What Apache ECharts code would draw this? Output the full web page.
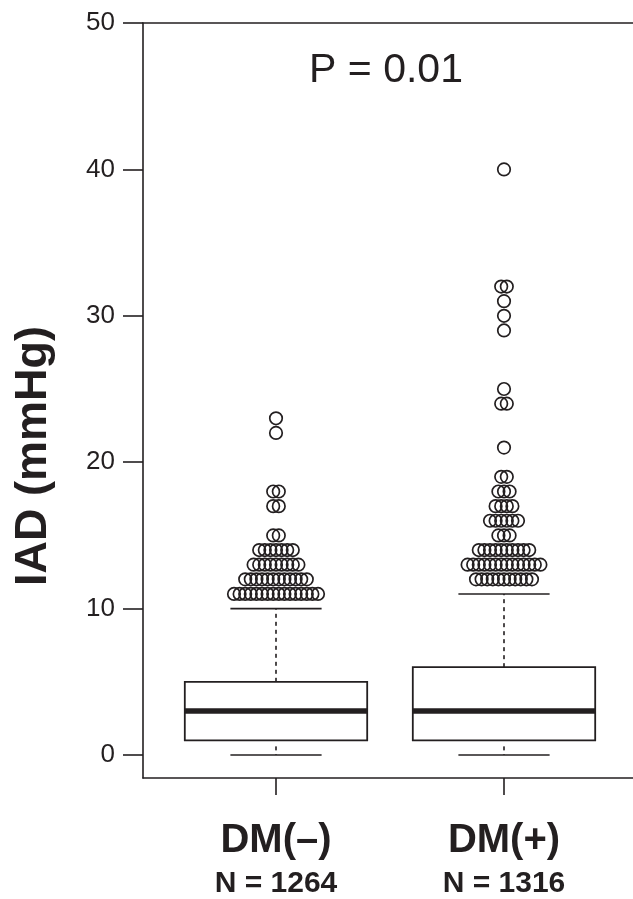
<!DOCTYPE html>
<html>
<head>
<meta charset="utf-8">
<script src="https://cdn.jsdelivr.net/npm/echarts@6/dist/echarts.min.js"></script>
<style>
html,body{margin:0;padding:0;background:#fff;}
#chart{width:633px;height:899px;}
</style>
</head>
<body>
<div id="chart"></div>
<script>
// ---- data ----
const categories = ['DM(–)', 'DM(+)'];
const sampleSizes = ['N = 1264', 'N = 1316'];
const whiskerLow = [0, 0];
const q1 = [1, 1];
const median = [3, 3];
const q3 = [5, 6];
const whiskerHigh = [10, 11];
const outlierValuesNeg = [11, 12, 13, 14, 15, 17, 18, 22, 23];
const outlierCountsNeg = [16, 12, 9, 7, 2, 2, 2, 1, 1];
const outlierValuesPos = [12, 13, 14, 15, 16, 17, 18, 19, 21, 24, 25, 29, 30, 31, 32, 40];
const outlierCountsPos = [11, 14, 10, 3, 6, 4, 3, 2, 1, 2, 1, 1, 1, 1, 2, 1];
const yTicks = [0, 10, 20, 30, 40, 50];
const pText = 'P = 0.01';
const yName = 'IAD (mmHg)';

// ---- layout ----
const INK = '#231f20';
const FONT = '"Liberation Sans", Arial, Helvetica, sans-serif';
const W = 633;
const gridLeft = 143, gridTop = 23, gridBottom = 121, gridRight = 0;
const pxPerCat = 228, firstCatPx = 276;
const xMin = 1 - (firstCatPx - gridLeft) / pxPerCat;
const xMax = 1 + (W - gridRight - firstCatPx) / pxPerCat;
const boxHalf = 0.40, capHalf = 0.20;
const swarmStep = 5.6 / pxPerCat;

const boxData = categories.map((c, i) => [i + 1, whiskerLow[i], q1[i], median[i], q3[i], whiskerHigh[i]]);

function swarm(values, counts, xc) {
  const pts = [];
  values.forEach((v, k) => {
    const n = counts[k];
    for (let i = 0; i < n; i++) pts.push([xc + (i - (n - 1) / 2) * swarmStep, v]);
  });
  return pts;
}
const outliers = swarm(outlierValuesNeg, outlierCountsNeg, 1).concat(swarm(outlierValuesPos, outlierCountsPos, 2));

const axisLine = {show: true, onZero: false, lineStyle: {color: INK, width: 1.6}};

const chart = echarts.init(document.getElementById('chart'));
chart.setOption({
  animation: false,
  backgroundColor: '#fff',
  grid: {left: gridLeft, top: gridTop, bottom: gridBottom, right: gridRight},
  xAxis: [{
    type: 'value', min: xMin, max: xMax, position: 'bottom',
    axisLine: axisLine,
    splitLine: {show: false},
    axisTick: {show: true, customValues: [1, 2], length: 17, lineStyle: {color: INK, width: 1.6}},
    axisLabel: {
      customValues: [1, 2], margin: 40, fontFamily: FONT, color: INK,
      formatter: v => { const i = Math.round(v) - 1; return '{a|' + categories[i] + '}\n{b|' + sampleSizes[i] + '}'; },
      rich: {
        a: {fontSize: 40, fontWeight: 'bold', lineHeight: 45, fontFamily: FONT, color: INK},
        b: {fontSize: 30, fontWeight: 'bold', lineHeight: 42, fontFamily: FONT, color: INK}
      }
    }
  }, {
    type: 'value', min: xMin, max: xMax, position: 'top',
    axisLine: axisLine, axisTick: {show: false}, axisLabel: {show: false}, splitLine: {show: false}
  }],
  yAxis: {
    type: 'value', min: -1.57, max: 50,
    axisLine: axisLine,
    splitLine: {show: false},
    axisTick: {show: true, customValues: yTicks, length: 20, lineStyle: {color: INK, width: 1.6}},
    axisLabel: {customValues: yTicks, margin: 28, fontSize: 26, fontFamily: FONT, color: INK}
  },
  graphic: [
    {type: 'text', x: 386, y: 71, style: {text: pText, fontSize: 41, fontFamily: FONT, fill: INK, align: 'center', verticalAlign: 'middle'}},
    {type: 'text', x: 34, y: 456, rotation: Math.PI / 2, style: {text: yName, fontSize: 45, fontWeight: 'bold', fontFamily: FONT, fill: INK, align: 'center', verticalAlign: 'middle'}}
  ],
  series: [
    {
      type: 'custom',
      data: boxData,
      clip: false,
      renderItem: function (params, api) {
        const x = api.value(0);
        const yLo = api.coord([x, api.value(1)])[1];
        const yQ1 = api.coord([x, api.value(2)])[1];
        const yMed = api.coord([x, api.value(3)])[1];
        const yQ3 = api.coord([x, api.value(4)])[1];
        const yHi = api.coord([x, api.value(5)])[1];
        const xc = api.coord([x, 0])[0];
        const bl = api.coord([x - boxHalf, 0])[0];
        const br = api.coord([x + boxHalf, 0])[0];
        const cl = api.coord([x - capHalf, 0])[0];
        const cr = api.coord([x + capHalf, 0])[0];
        const thin = {stroke: INK, lineWidth: 1.6, fill: null};
        const dash = {stroke: INK, lineWidth: 1.6, lineDash: [4, 4]};
        return {
          type: 'group',
          children: [
            {type: 'line', shape: {x1: xc, y1: yQ3, x2: xc, y2: yHi}, style: dash},
            {type: 'line', shape: {x1: xc, y1: yQ1 + 6, x2: xc, y2: yLo}, style: dash},
            {type: 'line', shape: {x1: cl, y1: yHi, x2: cr, y2: yHi}, style: thin},
            {type: 'line', shape: {x1: cl, y1: yLo, x2: cr, y2: yLo}, style: thin},
            {type: 'rect', shape: {x: bl, y: yQ3, width: br - bl, height: yQ1 - yQ3}, style: {stroke: INK, lineWidth: 1.8, fill: '#fff'}},
            {type: 'line', shape: {x1: bl, y1: yMed, x2: br, y2: yMed}, style: {stroke: INK, lineWidth: 5.5}}
          ]
        };
      }
    },
    {
      type: 'scatter',
      data: outliers,
      symbol: 'circle',
      symbolSize: 12.5,
      itemStyle: {color: 'rgba(0,0,0,0)', borderColor: INK, borderWidth: 1.7, opacity: 1},
      emphasis: {disabled: true}
    }
  ]
});
</script>
</body>
</html>
